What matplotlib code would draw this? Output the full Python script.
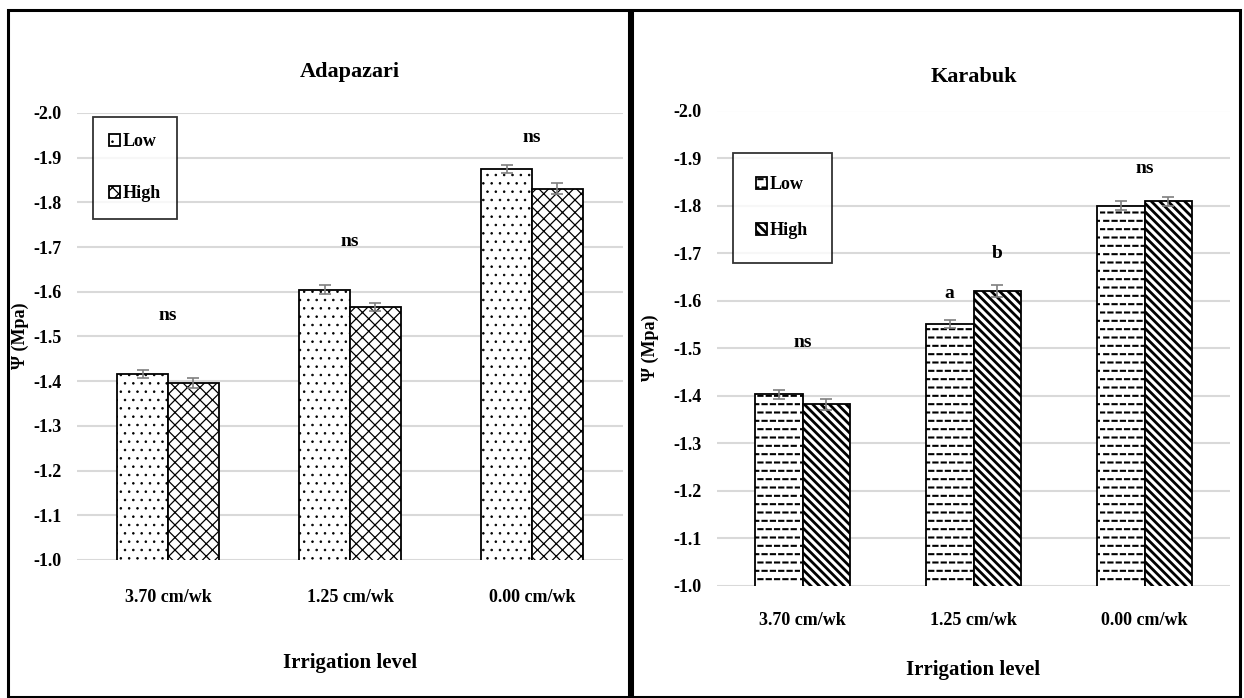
import numpy as np
import matplotlib
matplotlib.use("Agg")
import matplotlib.pyplot as plt
from matplotlib import hatch as mhatch
from matplotlib.path import Path
from matplotlib.patches import Rectangle


class DashRowHatch(mhatch.HatchPatternBase):
    """'-' in a hatch string -> staggered rows of short dashes."""

    def __init__(self, hatch, density):
        self.num_rows = int(hatch.count('-') * density)
        self.num_vertices = self.num_rows * self.num_rows * 2

    def set_vertices_and_codes(self, vertices, codes):
        n = self.num_rows
        step = 1.0 / n
        pos = 0
        for row in range(n):
            y = (row + 0.5) * step
            shift = 0.5 * step if row % 2 else 0.0
            for col in range(n):
                x0 = col * step + shift
                vertices[pos] = (x0, y)
                vertices[pos + 1] = (x0 + 0.5 * step, y)
                pos += 2
        codes[0::2] = Path.MOVETO
        codes[1::2] = Path.LINETO


# finer diamond crosshatch for 'x' than the default
class FineNE(mhatch.NorthEastHatch):
    def __init__(self, hatch, density):
        super().__init__(hatch.replace('x', ''), density)
        self.num_lines += hatch.count('x') * 16
        self.num_vertices = (self.num_lines + 1) * 2 if self.num_lines else 0


class FineSE(mhatch.SouthEastHatch):
    def __init__(self, hatch, density):
        super().__init__(hatch.replace('x', ''), density)
        self.num_lines += hatch.count('x') * 16
        self.num_vertices = (self.num_lines + 1) * 2 if self.num_lines else 0


ht = mhatch._hatch_types
ht[ht.index(mhatch.HorizontalHatch)] = DashRowHatch
ht[ht.index(mhatch.NorthEastHatch)] = FineNE
ht[ht.index(mhatch.SouthEastHatch)] = FineSE

plt.rcParams['font.family'] = ['Liberation Serif', 'DejaVu Serif']
plt.rcParams['font.weight'] = 'bold'

# data (values are magnitudes of water potential, shown as negative)
levels = ["3.70 cm/wk", "1.25 cm/wk", "0.00 cm/wk"]
series = ["Low", "High"]

adapazari_low = [1.417, 1.605, 1.874]
adapazari_high = [1.396, 1.566, 1.831]
adapazari_low_err = [0.009, 0.010, 0.009]
adapazari_high_err = [0.011, 0.008, 0.012]
adapazari_marks = ["ns", "ns", "ns"]
adapazari_mark_y = [1.548, 1.713, 1.945]

karabuk_low = [1.403, 1.551, 1.800]
karabuk_high = [1.382, 1.620, 1.809]
karabuk_low_err = [0.009, 0.009, 0.009]
karabuk_high_err = [0.012, 0.012, 0.009]
karabuk_marks = [["ns"], ["a", "b"], ["ns"]]
karabuk_mark_y = [[1.512], [1.616, 1.700], [1.877]]

W, H = 1244, 698
fig = plt.figure(figsize=(W / 100, H / 100), dpi=100)


def fx(px):
    return px / W


def fy(py):
    return 1 - py / H


def draw_panel(ax, low, high, low_err, high_err, hatches, hlw, title, title_y,
               leg_xy, leg_pad, leg_space, tick_pad, xlabel_y):
    x = np.arange(len(levels))
    w = 0.28
    bars = []
    for k, (vals, errs) in enumerate([(low, low_err), (high, high_err)]):
        b = ax.bar(x + (k - 0.5) * w, vals, w, bottom=0, color="white",
                   edgecolor="black", linewidth=1.3, hatch=hatches[k],
                   label=series[k], zorder=3)
        for p in b:
            if hasattr(p, "set_hatch_linewidth"):
                p.set_hatch_linewidth(hlw[k])
        ax.errorbar(x + (k - 0.5) * w, vals, yerr=errs, fmt="none",
                    ecolor="#7f7f7f", elinewidth=1.2, capsize=4, capthick=1.2,
                    zorder=4)
        bars.append(b)
    ax.set_ylim(1.0, 2.0)
    ax.set_xlim(-0.5, len(levels) - 0.5)
    ax.set_yticks(np.arange(1.0, 2.01, 0.1))
    ax.set_yticklabels(["-%.1f" % v for v in np.arange(1.0, 2.01, 0.1)])
    ax.set_xticks(x)
    ax.set_xticklabels(levels)
    ax.tick_params(length=0, labelsize=13)
    ax.tick_params(axis="x", pad=tick_pad)
    ax.tick_params(axis="y", pad=11)
    ax.grid(axis="y", color="#d9d9d9", linewidth=1.5, zorder=0)
    ax.set_axisbelow(True)
    for s in ax.spines.values():
        s.set_visible(False)
    leg = ax.legend(handles=bars, loc="upper left",
                    bbox_to_anchor=(fx(leg_xy[0]), fy(leg_xy[1])),
                    bbox_transform=fig.transFigure, frameon=True, fancybox=False,
                    edgecolor="black", fontsize=13, handlelength=0.6,
                    handleheight=0.6, handletextpad=0.15,
                    labelspacing=leg_space, borderpad=leg_pad, borderaxespad=0)
    leg.get_frame().set_linewidth(1.3)
    for h, lw in zip(leg.legend_handles, hlw):
        if hasattr(h, "set_hatch_linewidth"):
            h.set_hatch_linewidth(lw)
    pos = ax.get_position()
    cx = pos.x0 + pos.width / 2
    fig.text(cx, title_y, title, ha="center", va="center", fontsize=16)
    fig.text(cx, xlabel_y, "Irrigation level", ha="center", va="center",
             fontsize=15)


ax1 = fig.add_axes([fx(77), fy(560), fx(546), 447 / H])
draw_panel(ax1, adapazari_low, adapazari_high, adapazari_low_err,
           adapazari_high_err, ["..", "x"], [0.6, 0.9], "Adapazari", fy(72),
           (93, 117), 0.9, 1.95, 21, fy(663))
for i, (m, y) in enumerate(zip(adapazari_marks, adapazari_mark_y)):
    ax1.text(i, y, m, ha="center", va="center", fontsize=14)
fig.text(fx(20), fy(336), "Ψ (Mpa)", rotation=90, ha="center", va="center",
         fontsize=13)

ax2 = fig.add_axes([fx(717), fy(586), fx(513), 475.5 / H])
draw_panel(ax2, karabuk_low, karabuk_high, karabuk_low_err, karabuk_high_err,
           ["--", "\\\\\\\\"], [1.5, 2.0], "Karabuk", fy(77), (733, 153),
           1.3, 1.6, 19, fy(670))
w = 0.28
for i, (ms, ys) in enumerate(zip(karabuk_marks, karabuk_mark_y)):
    if len(ms) == 1:
        ax2.text(i, ys[0], ms[0], ha="center", va="center", fontsize=14)
    else:
        for k, (m, y) in enumerate(zip(ms, ys)):
            ax2.text(i + (k - 0.5) * w, y, m, ha="center", va="center",
                     fontsize=14)
fig.text(fx(650), fy(348), "Ψ (Mpa)", rotation=90, ha="center", va="center",
         fontsize=13)

# panel frames
fig.patches.append(Rectangle((fx(8), fy(697)), fx(621), (697 - 10) / H,
                             transform=fig.transFigure, fill=False,
                             edgecolor="black", linewidth=2.2))
fig.patches.append(Rectangle((fx(632), fy(697)), fx(608), (697 - 10) / H,
                             transform=fig.transFigure, fill=False,
                             edgecolor="black", linewidth=2.2))

fig.savefig("out.png", dpi=100)
